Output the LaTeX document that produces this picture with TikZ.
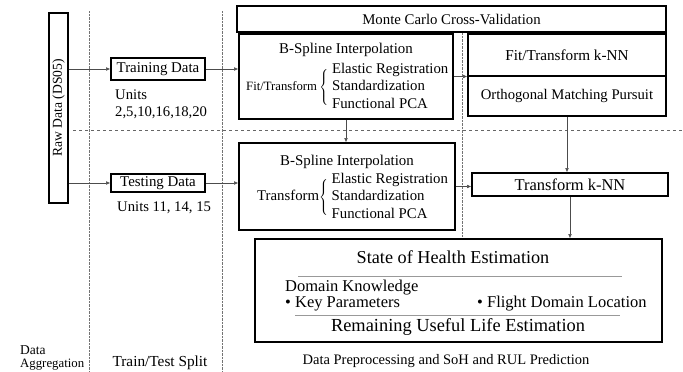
\documentclass[tikz,border=0pt]{standalone}
\usepackage{fontspec}
\setmainfont{Liberation Serif}
\usetikzlibrary{arrows.meta}

\begin{document}
\begin{tikzpicture}[x=1pt, y=-1pt,
		box/.style={draw, line width=1.6pt, inner sep=0pt},
		flow/.style={draw=black!70, thin, -{Latex[length=4pt, width=3.5pt]}},
		sep/.style={draw=black!55, densely dotted, thin},
		grayrule/.style={draw=black!40, line width=0.8pt},
		txt/.style={inner sep=0pt, font=\fontsize{#1}{17.5}\selectfont},
		txt/.default=14.7]
	\useasboundingbox (0,0) rectangle (683,372);
	% stage separators
	\foreach \sx in {89, 222} {
		\draw[sep] (\sx,11) -- (\sx,372);
	}
	\draw[sep] (462,33) -- (462,237);
	\draw[draw=black!60, dashed, thin] (73,130) -- (683,130);

	% data aggregation and split
	\node[box, minimum width=19pt, minimum height=190pt] (raw) at (58.5,108) {};
	\node[txt=13.6, rotate=90] at (raw.center) {Raw Data (DS05)};
	\node[box, minimum width=94pt, minimum height=22pt, txt=14.9] (train) at (158,69) {Training Data};
	\node[box, minimum width=94pt, minimum height=18pt, txt=14.9] (test) at (158,183) {Testing Data};
	\node[txt, anchor=west] at (115,95) {Units};
	\node[txt, anchor=west] at (115,113) {2,5,10,16,18,20};
	\node[txt, anchor=west] at (117,208) {Units 11, 14, 15};

	% preprocessing
	\node[draw, line width=1.2pt, minimum width=429pt, minimum height=26pt, txt=14.8] (mccv) at (451.5,19) {Monte Carlo Cross-Validation};
	\node[box, minimum width=214pt, minimum height=85pt] (fitprep) at (346,76.5) {};
	\node[txt=14.9] at (346,50) {B-Spline Interpolation};
	\node[txt=14.8, anchor=west] at (246,87) {{\fontsize{12.7}{12.7}\selectfont Fit/Transform}\,$\left\{\rule[-16pt]{0pt}{34pt}\right.$\,\begin{tabular}{@{}l@{}}Elastic Registration\\Standardization\\Functional PCA\end{tabular}};
	\node[box, minimum width=216pt, minimum height=87pt] (testprep) at (347,186.5) {};
	\node[txt=14.9] at (347,162) {B-Spline Interpolation};
	\node[txt=14.8, anchor=west] at (257,197) {Transform$\left\{\rule[-16pt]{0pt}{34pt}\right.$\,\begin{tabular}{@{}l@{}}Elastic Registration\\Standardization\\Functional PCA\end{tabular}};

	% k-NN
	\node[box, minimum width=198pt, minimum height=42pt, txt=15.2] (knnfit) at (567,55) {Fit/Transform k-NN};
	\node[box, minimum width=198pt, minimum height=40pt, txt=14.7] (omp) at (567,96) {Orthogonal Matching Pursuit};
	\node[box, minimum width=196pt, minimum height=23pt, txt=16.5] (knn) at (570,184.5) {Transform k-NN};

	% estimation
	\node[box, minimum width=407pt, minimum height=103pt] (soh) at (458.5,290.5) {};
	\node[txt=18.2] at (453,257) {State of Health Estimation};
	\draw[grayrule] (298,276) -- (622,276);
	\node[txt=16.5, anchor=west] at (285,288) {Domain Knowledge};
	\node[txt=16.5, anchor=west] at (285,304) {• Key Parameters};
	\node[txt=16.5, anchor=west] at (477,304) {• Flight Domain Location};
	\draw[grayrule] (295,315) -- (620,315);
	\node[txt=18.4] at (458,327) {Remaining Useful Life Estimation};

	% stage names
	\node[txt=13.5, anchor=west] at (20,350) {Data};
	\node[txt=12.8, anchor=west] at (20,365) {Aggregation};
	\node[txt=15.3] at (160,363) {Train/Test Split};
	\node[txt=14.5] at (446,361) {Data Preprocessing and SoH and RUL Prediction};

	\draw[flow] (raw.east |- train.west) -- (train.west);
	\draw[flow] (raw.east |- test.west) -- (test.west);
	\draw[flow] (train.east) -- (train.east -| fitprep.west);
	\draw[flow] (test.east) -- (test.east -| testprep.west);
	\draw[flow] (fitprep.south) -- (fitprep.south |- testprep.north);
	\draw[flow] (fitprep.east) -- (fitprep.east -| knnfit.west);
	\draw[flow] (testprep.east) -- (testprep.east -| knn.west);
	\draw[flow] (omp.south) -- (omp.south |- knn.north);
	\draw[flow] (knn.south) -- (knn.south |- soh.north);
\end{tikzpicture}
\end{document}
